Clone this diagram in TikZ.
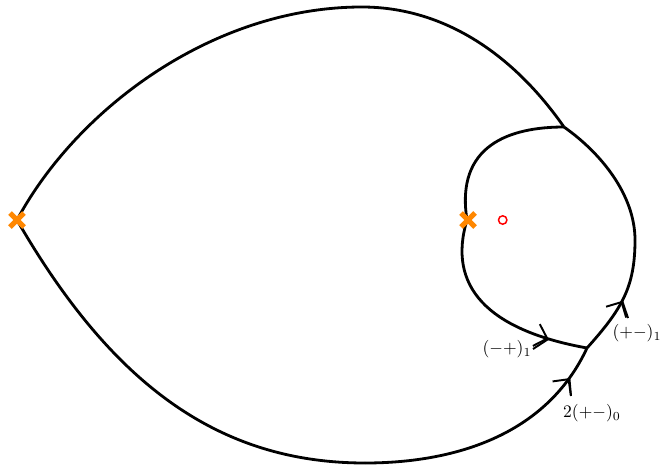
\documentclass[tikz,border=0pt]{standalone}
\usetikzlibrary{arrows.meta,calc}
\definecolor{xorange}{RGB}{255,135,0}
\begin{document}
\begin{tikzpicture}[x=0.57pt,y=-0.57pt,
  curve/.style={line width=1.6pt, line join=round},
  flowtip/.style={-{Straight Barb[length=6.5pt,width=13pt]}, line width=1.1pt},
  leader/.style={line width=1.1pt},
  branchpt/.style={xorange, line width=2.9pt},
  lab/.style={inner sep=1pt}]
\useasboundingbox (0,0) rectangle (664,466);
% key points
\coordinate (L) at (17,220);
\coordinate (C) at (467,220);
\coordinate (J1) at (564,127);
\coordinate (J2) at (587,348);
\coordinate (T) at (362,7);
\coordinate (B) at (365,463);
\coordinate (R) at (635,240);
% upper big curve
\draw[curve] (L) .. controls (76,110) and (212,7) .. (T)
             .. controls (437,7) and (508,47) .. (J1);
% lower big curve
\draw[curve] (L) .. controls (110,381) and (216,463) .. (B);
\draw[curve] (B) .. controls (460,463) and (548,432) .. (J2)
   coordinate[pos=0.84] (pC) coordinate[pos=0.87] (tC);
% inner loop
\draw[curve] (J1) .. controls (510,127) and (455,145) .. (C);
\draw[curve] (C) .. controls (447,286) and (487,330) .. (J2)
   coordinate[pos=0.83] (pA) coordinate[pos=0.86] (tA);
% right curve
\draw[curve] (J1) .. controls (601,153) and (635,195) .. (R);
\draw[curve] (R) .. controls (635,287) and (622,309) .. (J2)
   coordinate[pos=0.58] (pB) coordinate[pos=0.54] (tB);
% arrowheads
\draw[flowtip] (pA) -- (tA);
\draw[flowtip] (pB) -- (tB);
\draw[flowtip] (pC) -- (tC);
% labels
\node[lab] (lA) at (507,349) {$(-+)_1$};
\node[lab] (lB) at (637,333) {$(+-)_1$};
\node[lab] (lC) at (592,413) {$2(+-)_0$};
\coordinate (eA) at (533,349);
\coordinate (eB) at (628,318);
\coordinate (eC) at (571,396);
\draw[leader] (tA) -- (eA);
\draw[leader] (tB) -- (eB);
\draw[leader] (tC) -- (eC);
% branch points
\draw[branchpt] ($(L)+(-7,-7)$) -- ($(L)+(7,7)$) ($(L)+(-7,7)$) -- ($(L)+(7,-7)$);
\draw[branchpt] ($(C)+(-6,-7)$) -- ($(C)+(8,7)$) ($(C)+(-6,7)$) -- ($(C)+(8,-7)$);
\node[draw=red, line width=0.85pt, circle, minimum size=4.8pt, inner sep=0pt] (pole) at (502.7,220) {};
\end{tikzpicture}
\end{document}
